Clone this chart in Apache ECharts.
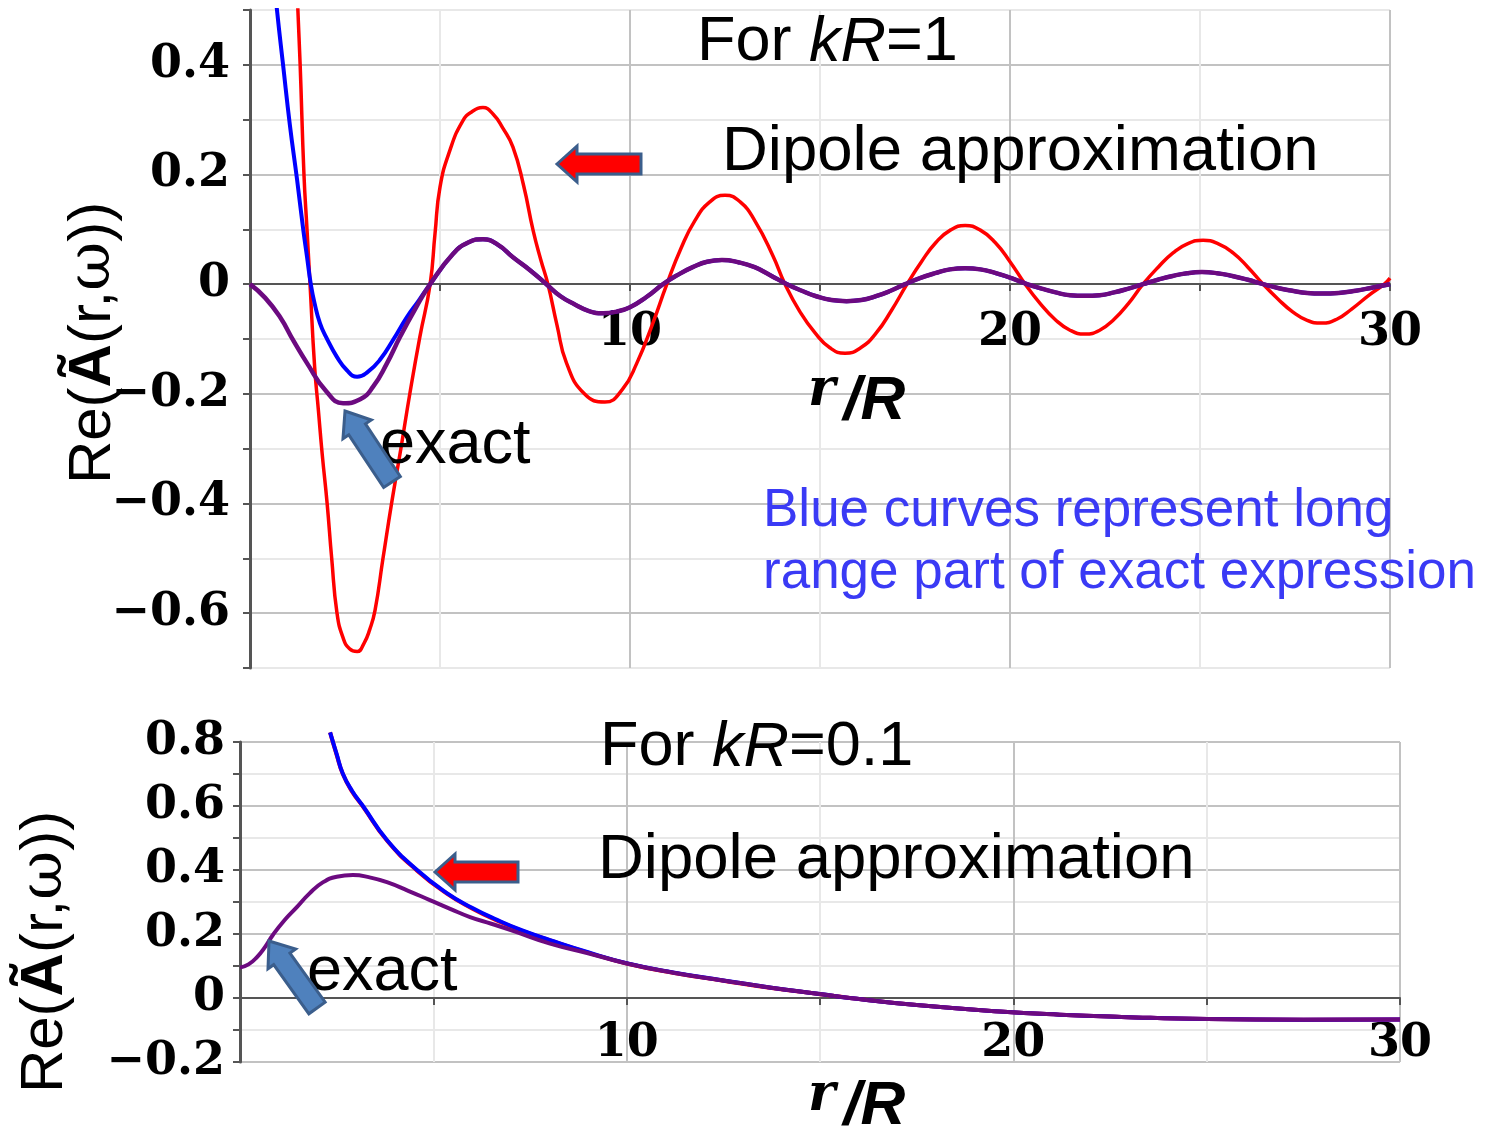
<!DOCTYPE html>
<html>
<head>
<meta charset="utf-8">
<title>Re(Ã(r,ω)) for kR=1 and kR=0.1</title>
<script src="https://cdn.jsdelivr.net/npm/echarts@6/dist/echarts.min.js"></script>
<style>
  html, body { margin: 0; padding: 0; background: #fff; }
  #chart { width: 1491px; height: 1133px; }
</style>
</head>
<body>
<div id="chart"></div>
<script>
// ---- kR = 1 (upper panel), [r/R, value] ----
const dipoleTop = [
  [1.2, 0.62], [1.26, 0.5], [1.32, 0.4], [1.42, 0.2], [1.5, 0.1], [1.58, 0], [1.7, -0.15],
  [1.8, -0.23], [1.9, -0.31], [2.03, -0.4], [2.15, -0.5], [2.29, -0.6], [2.45, -0.645],
  [2.62, -0.665], [2.82, -0.67], [3.0, -0.655], [3.15, -0.63], [3.29, -0.595], [3.5, -0.5],
  [3.73, -0.398], [3.97, -0.3], [4.21, -0.198], [4.47, -0.096], [4.74, 0], [4.87, 0.093],
  [5.0, 0.177], [5.26, 0.244], [5.6, 0.298], [5.85, 0.315], [6.13, 0.322], [6.4, 0.31],
  [6.65, 0.285], [6.92, 0.25], [7.2, 0.18], [7.45, 0.098], [7.65, 0.045], [7.84, 0],
  [8.08, -0.075], [8.33, -0.144], [8.8, -0.2], [9.34, -0.215], [9.8, -0.192], [10.18, -0.144],
  [10.58, -0.075], [10.97, 0], [11.34, 0.065], [11.7, 0.115], [12.1, 0.15], [12.5, 0.162],
  [12.9, 0.15], [13.29, 0.115], [13.76, 0.052], [14.08, 0], [14.47, -0.05], [14.87, -0.089],
  [15.26, -0.116], [15.66, -0.126], [16.07, -0.116], [16.48, -0.089], [16.88, -0.048],
  [17.29, 0], [17.67, 0.041], [18.05, 0.076], [18.44, 0.099], [18.82, 0.107], [19.21, 0.099],
  [19.61, 0.076], [20.0, 0.041], [20.4, 0], [20.79, -0.035], [21.18, -0.064], [21.58, -0.084],
  [21.97, -0.091], [22.36, -0.084], [22.74, -0.064], [23.12, -0.035], [23.5, 0], [23.9, 0.031],
  [24.29, 0.057], [24.68, 0.074], [25.08, 0.08], [25.47, 0.074], [25.87, 0.057], [26.26, 0.031],
  [26.66, 0], [27.05, -0.027], [27.43, -0.05], [27.82, -0.066], [28.2, -0.071], [28.6, -0.064],
  [29.0, -0.045], [29.45, -0.02], [29.85, 0], [30, 0.011]
];
const longRangeTopNear = [
  [0.6, 0.58], [0.71, 0.5], [0.87, 0.4], [1.05, 0.29], [1.24, 0.19], [1.4, 0.1], [1.5, 0.05],
  [1.6, 0], [1.7, -0.035], [1.84, -0.071], [2.0, -0.096], [2.29, -0.133], [2.55, -0.157],
  [2.82, -0.169], [3.1, -0.16], [3.42, -0.138], [3.78, -0.1], [4.13, -0.06], [4.44, -0.03], [4.74, 0]
];
const exactTop = [
  [0, 0], [0.4, -0.025], [0.79, -0.06], [1.15, -0.104], [1.5, -0.144], [2.0, -0.195],
  [2.45, -0.217], [2.9, -0.21], [3.24, -0.187], [3.6, -0.145], [3.95, -0.096], [4.35, -0.045],
  [4.74, 0], [5.34, 0.055], [5.74, 0.076], [6.13, 0.082], [6.52, 0.072], [6.92, 0.049],
  [7.36, 0.026], [7.8, 0], [8.17, -0.022], [8.55, -0.037], [8.92, -0.049], [9.29, -0.053],
  [9.65, -0.05], [10.0, -0.042], [10.44, -0.023], [10.87, 0], [11.26, 0.017], [11.65, 0.031],
  [12.03, 0.041], [12.42, 0.044], [12.85, 0.04], [13.28, 0.031], [13.7, 0.016], [14.13, 0],
  [14.52, -0.012], [14.9, -0.022], [15.3, -0.029], [15.7, -0.031], [16.09, -0.029], [16.47, -0.022],
  [16.86, -0.012], [17.24, 0], [17.63, 0.011], [18.03, 0.02], [18.42, 0.027], [18.82, 0.029],
  [19.22, 0.027], [19.63, 0.02], [20.04, 0.011], [20.45, 0], [20.83, -0.008], [21.2, -0.015],
  [21.58, -0.02], [21.97, -0.021], [22.36, -0.02], [22.74, -0.015], [23.12, -0.008], [23.5, 0],
  [23.89, 0.008], [24.28, 0.015], [24.66, 0.02], [25.05, 0.022], [25.45, 0.02], [25.85, 0.015],
  [26.26, 0.008], [26.66, 0], [27.05, -0.007], [27.43, -0.012], [27.82, -0.016], [28.2, -0.017],
  [28.65, -0.016], [29.1, -0.012], [29.55, -0.006], [30, 0]
];
// beyond the first zero the long range part lies under the exact curve
const longRangeTop = longRangeTopNear.concat(exactTop.filter(p => p[0] > 4.74));

// ---- kR = 0.1 (lower panel) ----
const dipoleBottom = [
  [2.33, 0.83], [2.5, 0.76], [2.66, 0.7], [2.9, 0.645], [3.18, 0.598], [3.8, 0.492],
  [4.58, 0.398], [5.35, 0.326], [6.0, 0.28], [6.65, 0.242], [7.3, 0.21], [8.02, 0.18],
  [9.0, 0.142], [10, 0.108], [11.2, 0.079], [12.5, 0.054], [13.7, 0.032], [15, 0.012],
  [15.77, 0], [17.5, -0.022], [19.65, -0.042], [21.2, -0.052], [22.8, -0.059], [25.03, -0.066],
  [27.5, -0.068], [30, -0.067]
];
const longRangeBottom = [
  [2.33, 0.83], [2.5, 0.762], [2.66, 0.701], [2.9, 0.647], [3.18, 0.6], [3.8, 0.494],
  [4.58, 0.4], [5.35, 0.328], [6.0, 0.282], [6.65, 0.244], [7.3, 0.211], [8.02, 0.181],
  [9.0, 0.143], [10, 0.109], [11.2, 0.08], [12.5, 0.055], [13.7, 0.033], [15, 0.0125],
  [15.77, 0], [17.5, -0.022], [19.65, -0.042], [21.2, -0.052], [22.8, -0.059], [25.03, -0.066],
  [27.5, -0.068], [30, -0.067]
];
const exactBottom = [
  [0, 0.095], [0.22, 0.105], [0.44, 0.128], [0.65, 0.16], [0.85, 0.197], [1.15, 0.243],
  [1.47, 0.284], [1.8, 0.327], [2.15, 0.362], [2.5, 0.379], [2.92, 0.384], [3.35, 0.377],
  [3.8, 0.362], [4.35, 0.335], [4.91, 0.306], [5.45, 0.278], [5.95, 0.253], [6.5, 0.232],
  [7.06, 0.21], [8.02, 0.17], [9, 0.14], [10, 0.108], [11.2, 0.079], [12.5, 0.055],
  [13.7, 0.033], [15, 0.0125], [15.77, 0], [17.5, -0.022], [19.65, -0.042], [21.2, -0.052],
  [22.8, -0.059], [25.03, -0.066], [27.5, -0.068], [30, -0.067]
];

// tick labels
const xTickLabels = [10, 20, 30];
const yTickLabelsTop = [0.4, 0.2, 0, -0.2, -0.4, -0.6];
const yTickLabelsBottom = [0.8, 0.6, 0.4, 0.2, 0, -0.2];

const SANS = '"Liberation Sans", Arial, sans-serif';
const SERIF = '"DejaVu Serif", serif';
const DARK_GRID = '#c2c2c2';
const LIGHT_GRID = '#e8e8e8';

function fmtX(v) {
  return xTickLabels.includes(Math.round(v)) ? String(Math.round(v)) : '';
}
function fmtY(list) {
  return v => {
    const r = Math.round(v * 10) / 10;
    if (!list.some(t => Math.abs(t - r) < 1e-6)) return '';
    if (r === 0) return '0';
    return (r < 0 ? '\u2212' : '') + Math.abs(r).toFixed(1);
  };
}

const tickFont = { fontFamily: SERIF, fontWeight: 'bold', fontSize: 46, color: '#000' };

// x axis is drawn through y = 0, moved up from the grid bottom with offset
function xAxisCfg(gi, offset, margin) {
  return {
    gridIndex: gi, type: 'value', min: 0, max: 30, interval: 5, offset: offset,
    axisLine: { onZero: false, lineStyle: { color: '#555', width: 2 } },
    axisTick: { length: 7, lineStyle: { color: '#555', width: 2 } },
    axisLabel: Object.assign({ formatter: fmtX, margin: margin }, tickFont),
    splitLine: { lineStyle: { color: [DARK_GRID, LIGHT_GRID], width: 2 } }
  };
}
function yAxisCfg(gi, min, max, list, colors, margin) {
  return {
    gridIndex: gi, type: 'value', min: min, max: max, interval: 0.1,
    axisLine: { show: true, onZero: false, lineStyle: { color: '#555', width: 3 } },
    axisTick: { show: true, length: 7, lineStyle: { color: '#555', width: 2 } },
    axisLabel: Object.assign({ formatter: fmtY(list), margin: margin }, tickFont),
    splitLine: { lineStyle: { color: colors, width: 2 } }
  };
}
function line(name, data, color, width, gi, clip) {
  return {
    name: name, type: 'line', xAxisIndex: gi, yAxisIndex: gi, data: data,
    showSymbol: false, smooth: 0.5, clip: clip,
    lineStyle: { color: color, width: width }, z: 3
  };
}

// block arrow outline from tail to tip
function blockArrow(tail, tip, headLen, headHalf, shaftHalf) {
  const dx = tip[0] - tail[0], dy = tip[1] - tail[1];
  const len = Math.hypot(dx, dy);
  const ux = dx / len, uy = dy / len;
  const nx = -uy, ny = ux;
  const bx = tip[0] - ux * headLen, by = tip[1] - uy * headLen;
  return [
    tip,
    [bx + nx * headHalf, by + ny * headHalf],
    [bx + nx * shaftHalf, by + ny * shaftHalf],
    [tail[0] + nx * shaftHalf, tail[1] + ny * shaftHalf],
    [tail[0] - nx * shaftHalf, tail[1] - ny * shaftHalf],
    [bx - nx * shaftHalf, by - ny * shaftHalf],
    [bx - nx * headHalf, by - ny * headHalf]
  ];
}
function arrow(tail, tip, fill, headLen, headHalf, shaftHalf) {
  return {
    type: 'polygon', z: 100,
    shape: { points: blockArrow(tail, tip, headLen, headHalf, shaftHalf) },
    style: { fill: fill, stroke: '#3b5e8c', lineWidth: 3, lineJoin: 'miter' }
  };
}
function label(x, y, text, rich, extra) {
  return {
    type: 'text', z: 100, x: x, y: y,
    style: Object.assign({
      text: text, rich: rich, fill: '#000',
      font: '63px ' + SANS, verticalAlign: 'middle', textAlign: 'left'
    }, extra || {})
  };
}

const kRRich = {
  n: { fontFamily: SANS, fontSize: 63, color: '#000' },
  i: { fontFamily: SANS, fontSize: 63, fontStyle: 'italic', color: '#000' }
};
const yNameRich = {
  a: { fontFamily: SANS, fontSize: 60, color: '#000' },
  b: { fontFamily: SANS, fontSize: 60, fontWeight: 'bold', color: '#000' },
  c: { fontFamily: SERIF, fontSize: 60, color: '#000' }
};
const yNameText = '{a|Re(}{b|Ã}{a|(r,}{c|ω}{a|))}';
const rRich = {
  r: { fontFamily: SERIF, fontSize: 52, fontWeight: 'bold', fontStyle: 'italic', color: '#000', verticalAlign: 'top', padding: [0, 8, 22, 0] },
  s: { fontFamily: SANS, fontSize: 62, fontWeight: 'bold', fontStyle: 'italic', color: '#000' }
};

const chart = echarts.init(document.getElementById('chart'));
chart.setOption({
  backgroundColor: '#fff',
  animation: false,
  grid: [
    { left: 250, right: 101, top: 10, height: 658 },
    { left: 240, right: 91, top: 742, height: 320 }
  ],
  xAxis: [xAxisCfg(0, -384, 26), xAxisCfg(1, -64, 23)],
  yAxis: [
    yAxisCfg(0, -0.7, 0.5, yTickLabelsTop, [LIGHT_GRID, DARK_GRID], 20),
    yAxisCfg(1, -0.2, 0.8, yTickLabelsBottom, [DARK_GRID, LIGHT_GRID], 15)
  ],
  series: [
    line('dipole kR=1', dipoleTop, '#ff0000', 3.5, 0, true),
    line('long range kR=1', longRangeTop, '#0000ff', 4, 0, true),
    line('exact kR=1', exactTop, '#6c0a80', 4.5, 0, true),
    line('dipole kR=0.1', dipoleBottom, '#ff0000', 4, 1, false),
    line('long range kR=0.1', longRangeBottom, '#0000ff', 4, 1, false),
    line('exact kR=0.1', exactBottom, '#6c0a80', 4, 1, false)
  ],
  graphic: [
    // upper panel
    label(697, 43, '{n|For }{i|kR}{n|=1}', kRRich),
    label(722, 152, 'Dipole approximation', null, { font: '63.5px ' + SANS }),
    label(380, 446, 'exact'),
    label(763, 511, 'Blue curves represent long', null, { font: '53px ' + SANS, fill: '#3a3af5' }),
    label(763, 573, 'range part of exact expression', null, { font: '53px ' + SANS, fill: '#3a3af5' }),
    arrow([641, 164], [557, 164], '#ff0000', 20, 18, 10),
    arrow([392, 482], [345, 411], '#4f81bd', 22, 17, 10),
    { type: 'text', z: 100, x: 93, y: 343, rotation: Math.PI / 2,
      style: { text: yNameText, rich: yNameRich, textAlign: 'center', verticalAlign: 'middle' } },
    { type: 'text', z: 100, x: 808, y: 402,
      style: { text: '{r|r}{s|/R}', rich: rRich, textAlign: 'left', verticalAlign: 'middle' } },
    // lower panel
    label(600, 748, '{n|For }{i|kR}{n|=0.1}', kRRich),
    label(598, 860, 'Dipole approximation', null, { font: '63.5px ' + SANS }),
    label(307, 973, 'exact'),
    arrow([518, 872], [435, 872], '#ff0000', 20, 18, 10),
    arrow([317, 1008], [269, 941], '#4f81bd', 22, 17, 10),
    { type: 'text', z: 100, x: 45, y: 952, rotation: Math.PI / 2,
      style: { text: yNameText, rich: yNameRich, textAlign: 'center', verticalAlign: 'middle' } },
    { type: 'text', z: 100, x: 808, y: 1107,
      style: { text: '{r|r}{s|/R}', rich: rRich, textAlign: 'left', verticalAlign: 'middle' } }
  ]
});
</script>
</body>
</html>
